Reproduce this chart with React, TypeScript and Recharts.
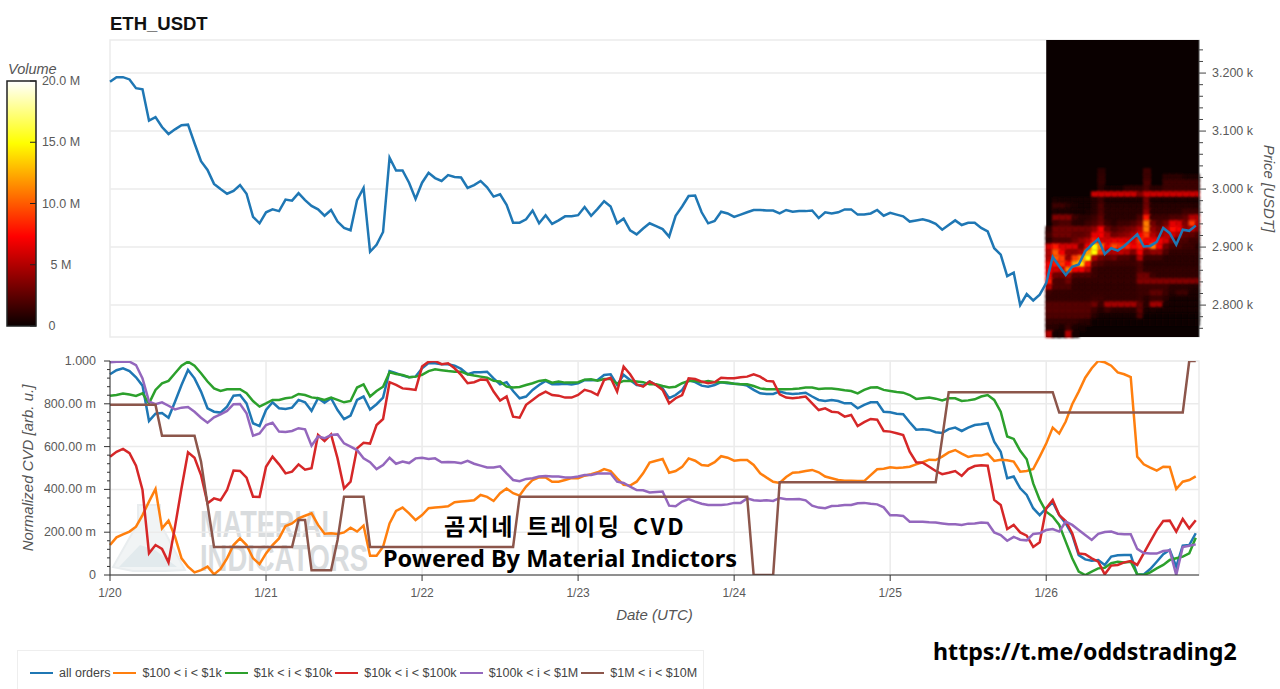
import React from 'react';
import { ComposedChart, Line, XAxis, YAxis, CartesianGrid, ReferenceArea } from 'recharts';

const dayTicks = [0, 24, 48, 72, 96, 120, 144];
const dayLabels = ['1/20', '1/21', '1/22', '1/23', '1/24', '1/25', '1/26'];
const priceMajor = [2800, 2900, 3000, 3100, 3200];
const priceMinor = [2760, 2780, 2800, 2820, 2840, 2860, 2880, 2900, 2920, 2940, 2960, 2980, 3000, 3020, 3040, 3060, 3080, 3100, 3120, 3140, 3160, 3180, 3200, 3220, 3240];
const cvdMajor = [0, 0.2, 0.4, 0.6, 0.8, 1];
const cvdMinor = [0, 0.04, 0.08, 0.12, 0.16, 0.2, 0.24, 0.28, 0.32, 0.36, 0.4, 0.44, 0.48, 0.52, 0.56, 0.6, 0.64, 0.68, 0.72, 0.76, 0.8, 0.84, 0.88, 0.92, 0.96, 1];
const volumeTicks = [0, 5, 10, 15, 20];

const price = [
  3185, 3193, 3193, 3189, 3174, 3172, 3118, 3124, 3107, 3095,
  3103, 3110, 3111, 3079, 3048, 3033, 3009, 3000, 2992, 2997,
  3007, 2992, 2952, 2941, 2960, 2965, 2962, 2982, 2980, 2993,
  2981, 2971, 2965, 2954, 2964, 2944, 2933, 2929, 2981, 3002,
  2892, 2904, 2926, 3054, 3032, 3032, 3011, 2983, 3011, 3028,
  3019, 3014, 3024, 3021, 3020, 3002, 3007, 3014, 3003, 2987,
  2991, 2973, 2942, 2942, 2948, 2963, 2941, 2955, 2940, 2946,
  2953, 2953, 2955, 2969, 2954, 2966, 2979, 2970, 2941, 2949,
  2929, 2922, 2932, 2941, 2936, 2931, 2918, 2954, 2970, 2988,
  2989, 2960, 2941, 2945, 2961, 2958, 2952, 2956, 2960, 2964,
  2964, 2963, 2963, 2958, 2964, 2961, 2962, 2962, 2963, 2950,
  2960, 2958, 2960, 2965, 2965, 2956, 2956, 2958, 2964, 2954,
  2959, 2956, 2953, 2944, 2946, 2948, 2945, 2940, 2930, 2938,
  2946, 2938, 2942, 2942, 2933, 2927, 2898, 2887, 2850, 2856,
  2800, 2819, 2808, 2818, 2838, 2883, 2867, 2852, 2866, 2870,
  2893, 2904, 2914, 2888, 2898, 2894, 2902, 2912, 2922, 2901,
  2902, 2909, 2933, 2924, 2904, 2930, 2928, 2937,
];

const allOrders = [
  938, 957, 966, 953, 924, 885, 720, 754, 757, 735, 810, 888, 958, 919, 857, 779, 763, 759, 787, 838, 841, 802, 709, 696, 771, 807, 779, 776, 782, 818, 807, 767, 826, 805, 826, 771, 728, 745, 818, 834, 773, 798, 829, 953, 943, 932, 924, 927, 966, 990,
  989, 985, 985, 978, 963, 938, 947, 947, 950, 919, 891, 901, 860, 826, 834, 865, 888, 907, 891, 891, 894, 890, 896, 911, 910, 911, 935, 938, 888, 935, 911, 888, 885, 904, 888, 872, 826, 841, 865, 911, 901, 885, 880, 888, 901, 896, 894, 891, 885, 865, 849, 846, 846, 857, 849, 846, 848, 852, 834, 818, 813, 818, 813, 802,
  802, 779, 795, 807, 807, 763, 760, 754, 751, 714, 679, 681, 678, 667, 664, 682, 689, 673, 689, 701, 704, 709, 623, 576, 452, 460, 405, 374, 312, 280, 312, 340, 280, 241, 187, 93, 73, 67, 70, 47, 86, 92, 93, 93, 0, 3, 28, 62, 97, 117, 39, 137, 140, 195,
];
const tier100 = [
  140, 176, 190, 203, 226, 280, 343, 402, 218, 254, 179, 78, 39, 12, 23, 39, 3, 28, 78, 140, 171, 140, 78, 51, 101, 140, 171, 229, 241, 265, 277, 288, 234, 193, 195, 192, 199, 221, 203, 231, 90, 90, 132, 241, 299, 315, 288, 257, 280, 312,
  315, 318, 321, 340, 343, 346, 349, 374, 365, 346, 382, 404, 382, 371, 413, 444, 456, 456, 436, 436, 444, 453, 452, 464, 471, 480, 495, 486, 452, 421, 418, 436, 475, 525, 534, 542, 478, 486, 505, 545, 534, 514, 511, 527, 555, 548, 534, 537, 537, 514, 475, 455, 436, 430, 458, 478, 480, 486, 491, 480, 460, 452, 444, 441,
  441, 439, 439, 467, 494, 497, 503, 500, 502, 506, 517, 527, 539, 537, 553, 573, 584, 567, 552, 558, 558, 567, 533, 539, 536, 530, 483, 486, 495, 553, 614, 689, 661, 717, 798, 857, 922, 966, 1000, 994, 978, 947, 938, 925, 553, 517, 502, 488, 506, 505, 402, 436, 444, 461,
];
const tier1k = [
  838, 841, 848, 843, 837, 849, 802, 865, 896, 907, 943, 978, 997, 978, 943, 904, 872, 860, 868, 868, 868, 849, 813, 787, 802, 818, 818, 826, 830, 846, 841, 830, 826, 818, 829, 818, 807, 813, 876, 891, 834, 860, 880, 947, 939, 935, 924, 927, 935, 953,
  961, 957, 953, 950, 950, 938, 932, 927, 922, 907, 904, 880, 876, 879, 888, 896, 907, 911, 899, 904, 899, 899, 901, 913, 915, 908, 916, 916, 894, 907, 907, 904, 901, 891, 891, 883, 876, 880, 896, 907, 907, 901, 907, 901, 901, 899, 894, 891, 891, 883, 872, 868, 868, 868, 868, 869, 872, 876, 876, 869, 872, 871, 868, 863,
  860, 849, 865, 876, 877, 865, 860, 855, 852, 841, 823, 826, 829, 824, 816, 826, 826, 813, 816, 821, 834, 841, 818, 763, 647, 636, 580, 541, 428, 351, 296, 273, 234, 156, 78, 16, 0, 16, 31, 34, 55, 62, 59, 62, 3, 0, 12, 31, 47, 70, 78, 86, 101, 174,
];
const tier10k = [
  553, 576, 589, 569, 511, 397, 101, 140, 122, 59, 226, 405, 573, 548, 467, 335, 358, 349, 397, 488, 486, 455, 366, 365, 506, 553, 517, 475, 483, 517, 492, 499, 654, 626, 657, 545, 404, 436, 592, 618, 614, 701, 729, 901, 888, 872, 869, 865, 974, 997,
  1000, 985, 989, 966, 935, 896, 901, 913, 911, 857, 815, 834, 740, 735, 795, 818, 841, 857, 841, 838, 829, 829, 841, 865, 857, 841, 911, 922, 857, 974, 938, 891, 880, 904, 888, 865, 802, 826, 841, 919, 916, 904, 896, 901, 922, 919, 919, 924, 927, 938, 927, 907, 904, 844, 829, 826, 829, 834, 802, 771, 779, 763, 760, 740,
  748, 696, 714, 729, 726, 673, 670, 662, 654, 576, 527, 525, 506, 486, 471, 478, 486, 463, 495, 509, 513, 511, 351, 327, 215, 234, 199, 184, 131, 153, 312, 351, 280, 252, 195, 101, 97, 78, 62, 3, 44, 47, 59, 65, 47, 101, 156, 210, 252, 254, 203, 262, 218, 256,
];
const tier100k = [
  994, 997, 997, 997, 981, 919, 810, 798, 807, 791, 774, 782, 785, 763, 735, 712, 737, 751, 767, 798, 799, 756, 651, 661, 701, 712, 670, 668, 673, 686, 681, 604, 647, 639, 654, 657, 615, 600, 584, 545, 527, 495, 514, 548, 520, 530, 523, 545, 548, 542,
  545, 527, 528, 527, 522, 533, 520, 511, 502, 502, 508, 475, 444, 438, 449, 452, 460, 463, 460, 460, 456, 456, 460, 467, 467, 474, 474, 474, 436, 430, 413, 397, 396, 386, 388, 390, 324, 321, 343, 355, 343, 333, 327, 327, 327, 330, 337, 337, 358, 349, 347, 349, 346, 360, 354, 354, 355, 349, 324, 315, 312, 322, 324, 327,
  327, 335, 337, 333, 330, 316, 279, 279, 276, 249, 249, 249, 246, 245, 241, 237, 237, 234, 240, 241, 245, 243, 199, 187, 160, 178, 165, 162, 192, 195, 210, 215, 203, 249, 234, 210, 187, 164, 192, 201, 203, 193, 190, 190, 122, 103, 100, 100, 112, 115, 0, 131, 137, 143,
];
const tier1m = [
  795, 795, 795, 795, 795, 795, 795, 795, 651, 651, 651, 651, 651, 651, 530, 330, 131, 131, 131, 131, 131, 131, 131, 131, 131, 131, 131, 131, 131, 257, 257, 22, 22, 22, 22, 164, 366, 366, 366, 366,
  131, 131, 131, 131, 131, 131, 131, 131, 131, 131, 131, 131, 131, 131, 131, 131, 131, 131, 131, 131, 131, 131, 131,
  366, 366, 366, 366, 366, 366, 366, 366, 366, 366, 366, 366, 366, 366, 366, 366, 366, 366, 366, 366, 366, 366, 366, 366, 366, 366, 366, 366, 366, 366, 366, 366, 366, 366, 366, 366,
  0, 0, 0, 0,
  433, 433, 433, 433, 433, 433, 433, 433, 433, 433, 433, 433, 433, 433, 433, 433, 433, 433, 433, 433, 433, 433, 433, 433, 433,
  640,
  854, 854, 854, 854, 854, 854, 854, 854, 854, 854, 854, 854, 854, 854, 854, 854, 854,
  759, 759, 759, 759, 759, 759, 759, 759, 759, 759, 759, 759, 759, 759, 759, 759, 759, 759, 759, 759,
  1000, 1000,
];

const seriesNames = ['all orders', '$100 < i < $1k', '$1k < i < $10k', '$10k < i < $100k', '$100k < i < $1M', '$1M < i < $10M'];
const seriesColors = ['#1f77b4', '#ff7f0e', '#2ca02c', '#d62728', '#9467bd', '#8c564b'];
const seriesValues = [allOrders, tier100, tier1k, tier10k, tier100k, tier1m];

// Volume in millions, one column per hour from hour 144, one row per 10 USD price bin.
const heatHours = [144, 145, 146, 147, 148, 149, 150, 151, 152, 153, 154, 155, 156, 157, 158, 159, 160, 161, 162, 163, 164, 165, 166, 167];
const heatBinLows = [3025, 3015, 3005, 2995, 2985, 2975, 2965, 2955, 2945, 2935, 2925, 2915, 2905, 2895, 2885, 2875, 2865, 2855, 2845, 2835, 2825, 2815, 2805, 2795, 2785, 2775, 2765, 2755, 2745];
const heatVolumes = [
  [0, 0, 0, 0, 0, 0, 0, 0, 1, 0, 0, 0, 0, 0, 0, 1.5, 0, 0, 0, 0, 0, 0, 0, 0],
  [0, 0, 0, 0, 0, 0, 0, 0, 1.2, 0, 0, 0, 0, 0, 0, 1.5, 0, 0, 1, 1, 1, 0.5, 0.5, 0.5],
  [0, 0, 0, 0, 0, 0, 0, 0, 1.2, 0, 0, 0, 0, 0, 0, 2, 0, 0, 1.5, 1.5, 1.5, 1.5, 1.5, 1.5],
  [0, 0, 0, 0, 0, 0, 0, 0, 1, 0.3, 0.3, 0.3, 1.2, 1.2, 1.2, 2, 1, 1, 1.5, 1.5, 1.5, 1.5, 1.5, 1.5],
  [0, 0, 0, 0, 0, 0, 0, 5.7, 5.7, 5.7, 5.7, 5.7, 5.7, 5.7, 3.5, 5.7, 5.7, 5.7, 5.7, 5.7, 5.7, 5.7, 5.7, 5.7],
  [0, 0.5, 0.3, 0.3, 0.3, 0.3, 0.3, 0.8, 1.5, 0.6, 0.6, 0.6, 0.6, 0.6, 0.6, 3, 0.6, 0.6, 0.6, 0.6, 0.6, 0.6, 0.6, 0.6],
  [0, 1.5, 1.5, 1, 0.5, 0.4, 0.4, 0.8, 2, 0.8, 0.8, 0.8, 0.8, 0.8, 0.8, 3, 0.8, 0.8, 0.8, 0.8, 0.8, 0.8, 0.8, 0.8],
  [0, 0.5, 0.5, 0.5, 0.4, 0.4, 0.5, 1, 2, 1, 1, 1, 1, 1, 1, 4, 1, 1, 1, 1, 1, 1.5, 1.5, 1.5],
  [0, 3.5, 3.5, 3.5, 1.5, 1, 1, 1.5, 2.5, 1, 1, 1, 1, 1, 2, 8, 1.5, 1.5, 1.5, 2, 2, 2.5, 5, 5],
  [0, 1.5, 2, 2, 1, 1, 1.5, 2, 3, 1.5, 1, 1.5, 1.5, 2, 3, 11, 3, 2, 3, 6.5, 6, 3.5, 9, 5],
  [1, 3, 3, 3, 3, 3, 3, 4, 7, 3, 2, 2.5, 3, 3.5, 5, 11, 4, 3, 5, 7.5, 7, 4, 5, 4],
  [1.5, 3, 3, 3, 2.5, 2.5, 3, 6.5, 7, 5, 3, 3.5, 4, 5, 7, 9, 5, 4, 5, 6, 5, 2.5, 2.5, 2],
  [1, 2, 2, 2, 3, 4, 5, 8, 6, 6, 6.5, 6.5, 6.5, 6, 9, 7, 7, 7, 6, 3.5, 2, 2, 1.5, 1.5],
  [6, 8, 6, 6, 6, 3, 7, 15, 11, 7, 9.5, 8.5, 8.5, 7, 8, 6.5, 11, 7, 3, 2, 2, 1.5, 1.5, 1],
  [5, 10, 7, 4, 4, 5, 12, 15, 9, 5, 5, 5.5, 5, 3.5, 7, 3, 4, 4, 2, 1.2, 1.2, 1.2, 1.2, 1.2],
  [5, 10, 9, 4, 9, 11, 15, 5, 3, 2.5, 3, 2, 2, 1.5, 5, 1.5, 1.5, 1.5, 1, 1, 1, 1, 1, 1],
  [7, 8, 9, 7, 12, 14, 8, 2.5, 2, 1.5, 1.5, 1.5, 1.5, 1.5, 2, 1, 1, 1, 1, 1, 1, 1, 1, 1],
  [7, 6, 6, 11, 7, 7, 5, 1.5, 1.2, 1.2, 1.2, 1.2, 1.2, 1.2, 2, 1.2, 1.2, 1.2, 1.2, 1.2, 1.2, 1.2, 1.2, 1.2],
  [7, 3, 3, 4, 2, 2, 2, 1.5, 1.2, 1.2, 1.2, 1.2, 1.2, 1.2, 3, 3, 1.5, 1.2, 1.2, 1.2, 1.2, 1.2, 1.2, 1.2],
  [8, 2, 2, 3, 1.3, 1.3, 1.3, 1.3, 1.3, 1.3, 1.3, 1.3, 1.3, 1.3, 3.5, 3.5, 3.5, 3.5, 3.5, 3.5, 3.5, 3.5, 3.5, 3.5],
  [5, 2, 2, 2, 1.2, 1.2, 1.2, 1.2, 1.2, 1.2, 1.2, 1.2, 1.2, 1.2, 1.5, 1.5, 1.5, 1.5, 1.5, 1, 1, 1, 0.8, 0.8],
  [1.5, 1.3, 1.3, 1.3, 1.3, 1.3, 1.3, 1.3, 1.3, 1.3, 1.3, 1.3, 1.3, 1.3, 1.5, 1.5, 2.5, 2.5, 1.5, 0.8, 1.5, 1.5, 0.5, 0.5],
  [1.3, 1.3, 1.3, 1.3, 1.3, 1.3, 1.3, 1.5, 1.5, 1.3, 1.3, 1.3, 1.3, 1.3, 1.5, 1, 1.5, 1.5, 1, 0.4, 0.4, 0.4, 0.4, 0.4],
  [2.2, 2.2, 2.2, 2.2, 2.2, 2.2, 2.2, 3, 1.5, 4.5, 4.5, 4.5, 4.5, 4.5, 2.5, 1, 4.5, 4.5, 0.5, 0.3, 0.3, 0.3, 0.3, 0.3],
  [2.3, 2.3, 2.3, 2.3, 2.3, 2.3, 2.3, 1.5, 0.8, 1.5, 1, 1, 1, 1, 2.5, 0.6, 0.6, 0.3, 0.3, 0.3, 0.3, 0.3, 0.3, 0.3],
  [2, 2, 2, 2, 2, 2, 2, 1, 0.4, 0.3, 0.3, 0.3, 0.3, 0.3, 2, 0.2, 0.2, 0.2, 0.2, 0.2, 0.2, 0.2, 0.2, 0.2],
  [1.3, 1.3, 1.3, 1.3, 1.3, 1, 0.8, 0.2, 0.2, 0.2, 0.2, 0.2, 0.2, 0.2, 0.2, 0.2, 0.2, 0.2, 0.2, 0.2, 0.2, 0.2, 0.2, 0.2],
  [1, 0.8, 0.6, 1.5, 0.5, 0.3, 0, 0, 0, 0, 0, 0, 0, 0, 0, 0, 0, 0, 0, 0, 0, 0, 0, 0],
  [5, 0.3, 0.3, 5, 0.3, 0, 0, 0, 0, 0, 0, 0, 0, 0, 0, 0, 0, 0, 0, 0, 0, 0, 0, 0],
];

const rows = price.map((p, i) => ({
  hour: i,
  price: p,
  s0: seriesValues[0][i] / 1000,
  s1: seriesValues[1][i] / 1000,
  s2: seriesValues[2][i] / 1000,
  s3: seriesValues[3][i] / 1000,
  s4: seriesValues[4][i] / 1000,
  s5: seriesValues[5][i] / 1000,
}));
const volumeRows = volumeTicks.map((v, i) => ({ pos: i / (volumeTicks.length - 1), volume: v }));

const SANS = '"Liberation Sans", Arial, sans-serif';
const GRID = '#ebebeb';
const TICK_TEXT = '#5a5a5a';
const X_MAX = 167.5;

function hot(v: number) {
  const t = Math.min(1, Math.max(0, v / 20));
  const ch = (x: number) => Math.round(Math.min(1, Math.max(0, x)) * 255);
  const r = ch(0.04 + (t / 0.365) * 0.96);
  const g = ch((t - 0.365) / (0.746 - 0.365));
  const b = ch((t - 0.746) / (1 - 0.746));
  return `rgb(${r},${g},${b})`;
}

const PriceTick = (props: any) => {
  const { x, y, payload } = props;
  const major = priceMajor.includes(payload.value);
  return (
    <g>
      <line x1={x} x2={x + (major ? 7 : 4)} y1={y} y2={y} stroke="#444" strokeWidth={1} />
      {major && (
        <text x={x + 13} y={y + 4} fontSize={12.5} fontFamily={SANS} fill={TICK_TEXT}>
          {(payload.value / 1000).toFixed(3)} k
        </text>
      )}
    </g>
  );
};

const CvdTick = (props: any) => {
  const { x, y, payload } = props;
  const v = Math.round(payload.value * 1000) / 1000;
  const major = cvdMajor.includes(v);
  const label = v === 1 ? '1.000' : v === 0 ? '0' : `${(v * 1000).toFixed(2)} m`;
  return (
    <g>
      <line x1={x} x2={x - (major ? 6 : 3)} y1={y} y2={y} stroke="#333" strokeWidth={1} />
      {major && (
        <text x={x - 14} y={y + 4} fontSize={12.5} fontFamily={SANS} fill={TICK_TEXT} textAnchor="end">
          {label}
        </text>
      )}
    </g>
  );
};

const VolumeTick = (props: any) => {
  const { x, y, payload } = props;
  const v = payload.value;
  const label = v === 0 ? '0' : v === 5 ? '5 M' : `${v.toFixed(1)} M`;
  return (
    <g>
      <line x1={x - 6} x2={x} y1={y} y2={y} stroke="#222" strokeWidth={1} />
      <text x={x + (v === 0 ? 16 : 25)} y={y + 4} fontSize={12.5} fontFamily={SANS} fill={TICK_TEXT} textAnchor="middle">
        {label}
      </text>
    </g>
  );
};

const SoftCell = (p: any) => (
  <rect x={p.x - 0.7} y={p.y - 0.7} width={p.width + 1.4} height={p.height + 1.4} fill={p.fill} filter="url(#soft)" />
);

export default function App() {
  const overlay = (l: number, t: number, extra: React.CSSProperties, text: string) => (
    <div style={{ position: 'absolute', left: l, top: t, whiteSpace: 'nowrap', ...extra }}>{text}</div>
  );
  return (
    <div style={{ position: 'absolute', left: 0, top: 0, width: 1280, height: 689, overflow: 'hidden', background: '#fff', fontFamily: SANS }}>
      <svg width={0} height={0} style={{ position: 'absolute' }}>
        <defs>
          <linearGradient id="hotbar" x1="0" y1="1" x2="0" y2="0">
            <stop offset="0" stopColor="#0a0000" />
            <stop offset="0.365" stopColor="#ff0000" />
            <stop offset="0.746" stopColor="#ffff00" />
            <stop offset="1" stopColor="#ffffff" />
          </linearGradient>
          <filter id="soft" x="-60%" y="-60%" width="220%" height="220%">
            <feGaussianBlur stdDeviation="0.8" />
          </filter>
        </defs>
      </svg>

      <svg width={360} height={100} style={{ position: 'absolute', left: 105, top: 495 }}>
        <polygon points="33,10 55,10 55,28 80,75 60,76 28,76 8,72 33,28" fill="#f1f4f5" stroke="#e9edef" strokeWidth={2} />
        <polygon points="14,72 35,50 50,55 72,72" fill="#e2eaed" />
        <text x={95} y={42} fontSize={36} fontWeight={700} fontFamily={SANS} fill="#d9dcde" textLength={138} lengthAdjust="spacingAndGlyphs">MATERIAL</text>
        <text x={95} y={76} fontSize={36} fontWeight={700} fontFamily={SANS} fill="#d9dcde" textLength={168} lengthAdjust="spacingAndGlyphs">INDICATORS</text>
      </svg>

      {overlay(110, 13, { fontSize: 18.5, fontWeight: 700, color: '#111' }, 'ETH_USDT')}

      <div style={{ position: 'absolute', left: 0, top: 0 }}>
        <ComposedChart width={1280} height={345} data={rows} margin={{ top: 40, left: 110, right: 0, bottom: 0 }}>
          <CartesianGrid stroke={GRID} strokeWidth={1.5} horizontalValues={priceMajor} verticalValues={dayTicks} />
          <ReferenceArea x1={0} x2={X_MAX} y1={2745} y2={3257} fill="none" stroke={GRID} strokeWidth={1.5} />
          <XAxis dataKey="hour" type="number" domain={[0, X_MAX]} ticks={dayTicks} height={8} tick={false} axisLine={false} tickLine={false} />
          <YAxis
            orientation="right"
            width={81}
            domain={[2745, 3257]}
            allowDataOverflow
            ticks={priceMinor}
            interval={0}
            tickSize={0}
            tickMargin={0}
            tickLine={false}
            axisLine={{ stroke: '#555' }}
            tick={PriceTick}
            label={{ value: 'Price [USDT]', angle: 90, position: 'insideRight', offset: 11, style: { fontFamily: SANS, fontStyle: 'italic', fontSize: 15, fill: '#555', textAnchor: 'middle' } }}
          />
          <ReferenceArea x1={144} x2={X_MAX} y1={2745} y2={3257} fill="#0a0000" fillOpacity={1} stroke="none" />
          {heatBinLows.map((low, r) =>
            heatHours.map((h, c) =>
              heatVolumes[r][c] >= 0.2 ? (
                <ReferenceArea
                  key={`${r}-${c}`}
                  x1={h}
                  x2={Math.min(h + 1, X_MAX)}
                  y1={low}
                  y2={low + 10}
                  fill={hot(heatVolumes[r][c])}
                  fillOpacity={1}
                  stroke="none"
                  shape={SoftCell}
                />
              ) : null,
            ),
          )}
          <Line dataKey="price" stroke="#1f77b4" strokeWidth={2.5} dot={false} isAnimationActive={false} type="linear" />
        </ComposedChart>
      </div>

      <div style={{ position: 'absolute', left: 0, top: 345 }}>
        <ComposedChart width={1280} height={290} data={rows} margin={{ top: 16, left: 0, right: 81, bottom: 0 }}>
          <CartesianGrid stroke={GRID} strokeWidth={1.5} horizontalValues={cvdMajor} verticalValues={dayTicks} />
          <ReferenceArea x1={0} x2={X_MAX} y1={0} y2={1} fill="none" stroke={GRID} strokeWidth={1.5} />
          <XAxis
            dataKey="hour"
            type="number"
            domain={[0, X_MAX]}
            ticks={dayTicks}
            interval={0}
            height={60}
            tickSize={6}
            tickMargin={7}
            axisLine={{ stroke: '#333' }}
            tickLine={{ stroke: '#333' }}
            tick={{ fontSize: 12, fontFamily: SANS, fill: TICK_TEXT }}
            tickFormatter={(v: number) => dayLabels[dayTicks.indexOf(v)] ?? ''}
            label={{ value: 'Date (UTC)', position: 'insideTop', offset: 34, dx: 0, style: { fontFamily: SANS, fontStyle: 'italic', fontSize: 15, fill: '#555' } }}
          />
          <YAxis
            width={110}
            domain={[0, 1]}
            allowDataOverflow
            ticks={cvdMinor}
            interval={0}
            tickSize={0}
            tickMargin={0}
            tickLine={false}
            axisLine={{ stroke: '#333' }}
            tick={CvdTick}
            label={{ value: 'Normalized CVD [arb. u.]', angle: -90, position: 'insideLeft', offset: 28, style: { fontFamily: SANS, fontStyle: 'italic', fontSize: 15, fill: '#555', textAnchor: 'middle' } }}
          />
          {seriesNames.map((n, i) => (
            <Line key={n} dataKey={`s${i}`} name={n} stroke={seriesColors[i]} strokeWidth={2.5} dot={false} isAnimationActive={false} type="linear" />
          ))}
        </ComposedChart>
      </div>

      <div style={{ position: 'absolute', left: 0, top: 60 }}>
        <ComposedChart width={100} height={280} data={volumeRows} margin={{ top: 21, left: 7, right: 0, bottom: 14 }}>
          <XAxis dataKey="pos" type="number" domain={[0, 1]} hide />
          <YAxis orientation="right" width={64} domain={[0, 20]} ticks={volumeTicks} interval={0} tickSize={0} tickMargin={0} tickLine={false} axisLine={false} tick={VolumeTick} />
          <ReferenceArea x1={0} x2={1} y1={0} y2={20} fill="url(#hotbar)" fillOpacity={1} stroke="#222" strokeWidth={1.5} />
          <Line dataKey="volume" stroke="none" dot={false} isAnimationActive={false} />
        </ComposedChart>
      </div>
      {overlay(8, 61, { fontSize: 14.5, fontStyle: 'italic', color: '#555' }, 'Volume')}

      {overlay(444, 508, { fontSize: 23, fontWeight: 700, fontFamily: '"Noto Sans CJK KR", sans-serif', color: '#000', letterSpacing: 2.5, wordSpacing: 4 }, '곰지네 트레이딩 CVD')}
      {overlay(383, 542, { fontSize: 23.5, fontWeight: 700, fontFamily: '"Noto Sans", sans-serif', color: '#000' }, 'Powered By Material Indictors')}
      {overlay(933, 635, { fontSize: 23.2, fontWeight: 700, fontFamily: '"Noto Sans", sans-serif', color: '#000' }, 'https://t.me/oddstrading2')}

      <div style={{ position: 'absolute', left: 17, top: 650, width: 687, height: 39, boxSizing: 'border-box', border: '1px solid #eee', borderBottom: 'none', display: 'flex', alignItems: 'center', paddingLeft: 12, paddingTop: 6, fontSize: 12.5, color: '#444' }}>
        {seriesNames.map((n, i) => (
          <span key={n} style={{ display: 'inline-flex', alignItems: 'center', marginRight: 3, whiteSpace: 'nowrap' }}>
            <span style={{ display: 'inline-block', width: 23, height: 2.5, background: seriesColors[i], marginRight: 6 }} />
            {n}
          </span>
        ))}
      </div>
    </div>
  );
}
